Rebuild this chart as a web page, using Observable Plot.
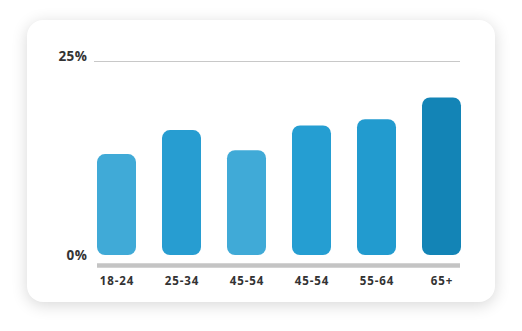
<!DOCTYPE html>
<html>
<head>
<meta charset="utf-8">
<script src="https://cdn.jsdelivr.net/npm/d3@7"></script>
<script src="https://cdn.jsdelivr.net/npm/@observablehq/plot@0.6"></script>
<style>
  html, body { margin: 0; padding: 0; background: #ffffff; }
  #wrap { position: relative; width: 522px; height: 331px; overflow: hidden; background: #fff; }
  #card { position: absolute; left: 27px; top: 20px; width: 468px; height: 282px; border-radius: 16px; background: #fff;
          box-shadow: 0 3px 16px rgba(0,0,0,0.16); }
  #chart { position: absolute; left: 0; top: 0; }
  #chart svg { font-family: "Open Sans", sans-serif; }
  #chart svg g[aria-label="x-axis tick label"] text { letter-spacing: 0.9px; }
  #chart svg g[aria-label="y-axis tick label"] text { letter-spacing: 0.5px; }
</style>
</head>
<body>
<div id="wrap"><div id="card"></div><div id="chart"></div></div>
<script>
const categories = ["18-24", "25-34", "45-54", "45-54", "55-64", "65+"];
const values = [13.0, 16.1, 13.5, 16.7, 17.5, 20.3];
const barColors = ["#40aad7", "#279dd1", "#40aad7", "#259ed2", "#229bcf", "#1384b6"];
const yTicks = [0, 25];

const data = categories.map((c, i) => ({i, label: c, value: values[i], color: barColors[i]}));

const chart = Plot.plot({
  width: 522,
  height: 331,
  marginTop: 61,
  marginBottom: 76,
  marginLeft: 97,
  marginRight: 61,
  style: {background: "transparent", fontFamily: "Open Sans, sans-serif"},
  x: {type: "band", domain: d3.range(categories.length), paddingInner: 0.4, paddingOuter: 0, label: null},
  y: {domain: [0, 25], label: null},
  marks: [
    Plot.ruleY([25], {stroke: "#c8c8c8", strokeWidth: 1, insetLeft: -3, insetRight: 1}),
    Plot.ruleY([0], {stroke: "#c4c4c4", strokeWidth: 4.5, dy: 10, insetRight: 1}),
    Plot.barY(data, {x: "i", y: "value", fill: "color", rx: 8, ry: 8}),
    Plot.axisY({ticks: [yTicks[1]], tickSize: 0, tickPadding: 10, tickFormat: d => d + "%",
      fontSize: 13.5, fontWeight: 700, fill: "#333", dy: -4.5}),
    Plot.axisY({ticks: [yTicks[0]], tickSize: 0, tickPadding: 10, tickFormat: d => d + "%",
      fontSize: 13.5, fontWeight: 700, fill: "#333", dy: 0.5}),
    Plot.axisX({tickSize: 0, tickPadding: 21, tickFormat: i => categories[i],
      fontSize: 11.5, fontWeight: 700, fill: "#333"})
  ]
});
document.getElementById("chart").appendChild(chart);
</script>
</body>
</html>
